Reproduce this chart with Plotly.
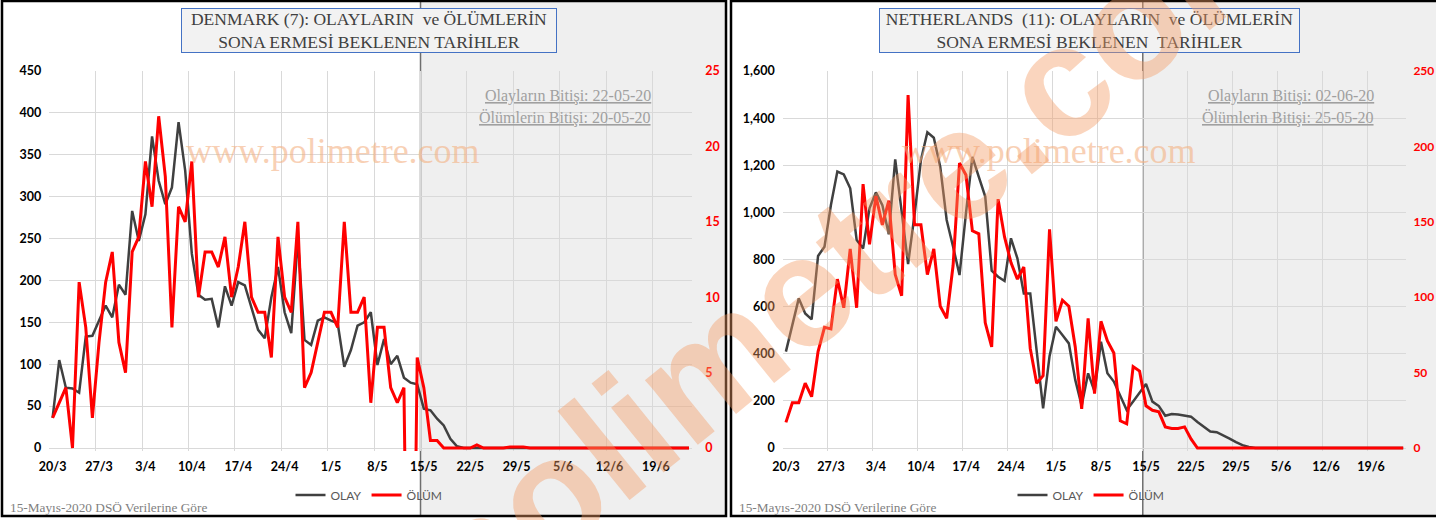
import plotly.graph_objects as go

W, H = 1436, 520

# ---- data ----
days = list(range(97))  # 20/3 .. 24/6
tick_days = [0, 7, 14, 21, 28, 35, 42, 49, 56, 63, 70, 77, 84, 91]
tick_labels = ["20/3", "27/3", "3/4", "10/4", "17/4", "24/4", "1/5", "8/5",
               "15/5", "22/5", "29/5", "5/6", "12/6", "19/6"]

dk_olay = [36, 105, 72, 71, 66, 133, 134, 151, 170, 156, 195, 183, 283, 247, 279,
           372, 319, 291, 311, 389, 331, 232, 183, 177, 178, 144, 193, 170, 198, 194,
           168, 141, 131, 180, 216, 162, 137, 250, 129, 123, 152, 156, 152, 149, 97,
           117, 146, 150, 162, 99, 130, 100, 110, 84, 78, 76, 47, 45, 35, 27,
           11, 2, 0, 0, 0, 0, 0, 0, 0, 0, 0, 0, 0, 0, 0,
           0, 0, 0, 0, 0, 0, 0, 0, 0, 0, 0, 0, 0, 0, 0,
           0, 0, 0, 0, 0, 0, 0]
dk_olum = [2, 3, 4, 0, 11, 8, 2, 7, 11, 13, 7, 5, 13, 14, 19,
           16, 22, 18, 8, 16, 15, 19, 10, 13, 13, 12, 14, 10, 12, 15,
           10, 9, 9, 6, 14, 10, 9, 15, 4, 5, 7, 9, 9, 8, 15,
           9, 9, 10, 3, 8, 8, 4, 3, 4, -30, 6, 4, 0.5, 0.5, 0,
           0, 0, 0, 0, 0.2, 0, 0, 0, 0, 0.07, 0.07, 0.07, 0, 0, 0,
           0, 0, 0, 0, 0, 0, 0, 0, 0, 0, 0, 0, 0, 0, 0,
           0, 0, 0, 0, 0, 0, 0]
nl_olay = [409, 522, 635, 571, 546, 815, 854, 1031, 1173, 1161, 1102, 883, 847, 1017, 1085,
           1031, 907, 1225, 1000, 781, 990, 1222, 1340, 1317, 1194, 968, 854, 734, 996, 1236,
           1151, 1067, 753, 727, 709, 890, 805, 656, 656, 402, 168, 390, 515, 480, 444,
           289, 180, 317, 240, 451, 317, 282, 225, 161, 197, 232, 272, 197, 178, 137,
           144, 142, 138, 133, 110, 90, 70, 67, 55, 40, 25, 12, 4, 0, 0,
           0, 0, 0, 0, 0, 0, 0, 0, 0, 0, 0, 0, 0, 0, 0,
           0, 0, 0, 0, 0, 0, 0]
nl_olum = [17, 30, 30, 43, 34, 64, 80, 79, 112, 93, 132, 93, 175, 135, 167,
           148, 164, 115, 101, 234, 148, 148, 115, 132, 94, 86, 121, 189, 181, 144,
           142, 83, 67, 165, 140, 123, 112, 120, 66, 43, 48, 145, 84, 98, 94,
           67, 26, 86, 36, 84, 71, 63, 18, 16, 54, 51, 28, 25, 24, 14,
           13, 13, 14, 6, 0, 0, 0, 0, 0, 0, 0, 0, 0, 0, 0,
           0, 0, 0, 0, 0, 0, 0, 0, 0, 0, 0, 0, 0, 0, 0,
           0, 0, 0, 0, 0, 0, 0]

panels = [
    dict(title="DENMARK (7): OLAYLARIN \u00a0ve ÖLÜMLERİN<br>SONA ERMESİ BEKLENEN TARİHLER",
         olay=dk_olay, olum=dk_olum, ymax=450, ydt=50, y2max=25, y2dt=5, fmt="d",
         notes=("Olayların Bitişi: 22-05-20", "Ölümlerin Bitişi: 20-05-20"),
         plot=(49.3, 692.3), frame=(2, 726), box=(181, 557), note_x=653, wm_x=333,
         r_standoff=12, r_size=12.5),
    dict(title="NETHERLANDS \u00a0(11): OLAYLARIN \u00a0ve ÖLÜMLERİN<br>SONA ERMESİ BEKLENEN \u00a0TARİHLER",
         olay=nl_olay, olum=nl_olum, ymax=1600, ydt=200, y2max=250, y2dt=50, fmt=",d",
         notes=("Olayların Bitişi: 02-06-20", "Ölümlerin Bitişi: 25-05-20"),
         plot=(782.7, 1406.4), frame=(731, 1442), box=(879, 1300), note_x=1376, wm_x=1049,
         r_standoff=6, r_size=12),
]

GRID = "#d9d9d9"
INK = "#404040"
RED = "#ff0000"
TOP, BOTTOM, PAD = 71, 448, 3
SERIF = "Liberation Serif"
SANS = "Lato"


def fx(px):
    return px / W


def fy(py):
    return 1 - py / H


fig = go.Figure()
layout = dict(width=W, height=H, margin=dict(l=0, r=0, t=0, b=0, autoexpand=False),
              paper_bgcolor="white", plot_bgcolor="rgba(0,0,0,0)",
              annotations=[], shapes=[])

for i, p in enumerate(panels):
    xa = "x" if i == 0 else "x2"
    ya, ya2 = ("y", "y2") if i == 0 else ("y3", "y4")
    lg = "legend" if i == 0 else "legend2"
    x0, x1 = p["plot"]
    span = BOTTOM - TOP

    fig.add_trace(go.Scatter(x=days, y=p["olay"], xaxis=xa, yaxis=ya, name="OLAY",
                             mode="lines", line=dict(color=INK, width=2.5), legend=lg))
    fig.add_trace(go.Scatter(x=days, y=p["olum"], xaxis=xa, yaxis=ya2, name="ÖLÜM",
                             mode="lines", line=dict(color=RED, width=3), legend=lg))

    tickfont = dict(family=SANS, size=12.5, color="black", weight="bold")
    layout["xaxis" + ("" if i == 0 else "2")] = dict(
        domain=[fx(x0), fx(x1)], range=[-0.5, 96.5], anchor=ya, automargin=False,
        tickmode="array", tickvals=tick_days, ticktext=tick_labels,
        showgrid=False, zeroline=False, showline=False, ticks="",
        tickfont=tickfont, ticklabelstandoff=6,
        minor=dict(tickmode="array", tickvals=[d - 0.5 for d in tick_days],
                   showgrid=True, gridcolor=GRID, gridwidth=1.3, ticks=""),
    )
    ydom = [fy(BOTTOM + PAD), fy(TOP)]
    layout["yaxis" + ("" if i == 0 else "3")] = dict(
        domain=ydom, anchor=xa, range=[-PAD * p["ymax"] / span, p["ymax"]],
        automargin=False,
        tick0=0, dtick=p["ydt"], tickformat=p["fmt"], showgrid=True,
        gridcolor=GRID, gridwidth=1.3, zeroline=False, showline=False, ticks="",
        tickfont=tickfont, ticklabelstandoff=7,
    )
    layout["yaxis" + ("2" if i == 0 else "4")] = dict(
        overlaying=ya, side="right", anchor=xa, automargin=False,
        range=[-PAD * p["y2max"] / span, p["y2max"]], tick0=0, dtick=p["y2dt"],
        showgrid=False, zeroline=False, showline=False, ticks="",
        tickfont=dict(family=SANS, size=p["r_size"], color=RED, weight="bold"),
        ticklabelstandoff=p["r_standoff"],
    )

    # forecast zone: from the 15/5 boundary to the frame edge
    fz = x0 + (x1 - x0) * 56 / 97
    f0, f1 = p["frame"]
    layout["shapes"] += [
        dict(type="rect", xref="paper", yref="paper", x0=fx(fz), x1=fx(f1 - 1),
             y0=fy(516), y1=1, fillcolor="#efefef", line_width=0, layer="below"),
        dict(type="line", xref="paper", yref="paper", x0=fx(fz), x1=fx(fz),
             y0=fy(516), y1=1, line=dict(color="#6e6e6e", width=1.5), layer="below"),
        dict(type="rect", xref="paper", yref="paper", x0=fx(f0), x1=fx(f1),
             y0=fy(516), y1=fy(1), line=dict(color="black", width=2.5),
             fillcolor="rgba(0,0,0,0)", layer="above"),
    ]

    b0, b1 = p["box"]
    layout["annotations"] += [
        dict(text=p["title"], xref="paper", yref="paper", x=fx((b0 + b1) / 2), y=fy(30.5),
             xanchor="center", yanchor="middle", showarrow=False,
             font=dict(family=SERIF, size=17.5, color="#404040"),
             bgcolor="#f2f2f2", bordercolor="#4472c4", borderwidth=1, borderpad=0,
             width=b1 - b0 - 2, height=43),
        dict(text="<u>%s</u>" % p["notes"][0], xref="paper", yref="paper",
             x=fx(p["note_x"]), y=fy(96), xanchor="right", yanchor="middle",
             showarrow=False, font=dict(family=SERIF, size=16, color="#a0a0a0")),
        dict(text="<u>%s</u>" % p["notes"][1], xref="paper", yref="paper",
             x=fx(p["note_x"]), y=fy(118), xanchor="right", yanchor="middle",
             showarrow=False, font=dict(family=SERIF, size=16, color="#a0a0a0")),
        dict(text="www.polimetre.com", xref="paper", yref="paper", x=fx(p["wm_x"]), y=fy(151),
             xanchor="center", yanchor="middle", showarrow=False,
             font=dict(family=SERIF, size=36, color="rgba(244,177,131,0.6)")),
        dict(text="15-Mayıs-2020 DSÖ Verilerine Göre", xref="paper", yref="paper",
             x=fx(f0 + 6), y=fy(507), xanchor="left", yanchor="middle", showarrow=False,
             font=dict(family=SERIF, size=13.3, color="#7f7f7f")),
    ]

    layout[lg] = dict(orientation="h", x=fx(369 if i == 0 else 1091), y=fy(495),
                      xanchor="center", yanchor="middle", bgcolor="rgba(0,0,0,0)",
                      font=dict(family=SANS, size=12, color="#595959"),
                      itemwidth=30, tracegroupgap=0)

# big diagonal site watermark (runs off the picture, as in the original)
layout["annotations"].append(
    dict(text="<b>polimetre.com</b>", xref="paper", yref="paper", x=fx(856), y=fy(246),
         xanchor="center", yanchor="middle", showarrow=False, textangle=-39,
         font=dict(family="Liberation Sans", size=158, color="rgba(242,155,100,0.42)")))

fig.update_layout(**layout)
# the page has a default 8px body margin; drop it so the chart sits at (0, 0)
fig.write_html("out.html", config={"displayModeBar": False},
               post_script="document.body.style.margin='0';document.body.style.overflow='hidden';")
